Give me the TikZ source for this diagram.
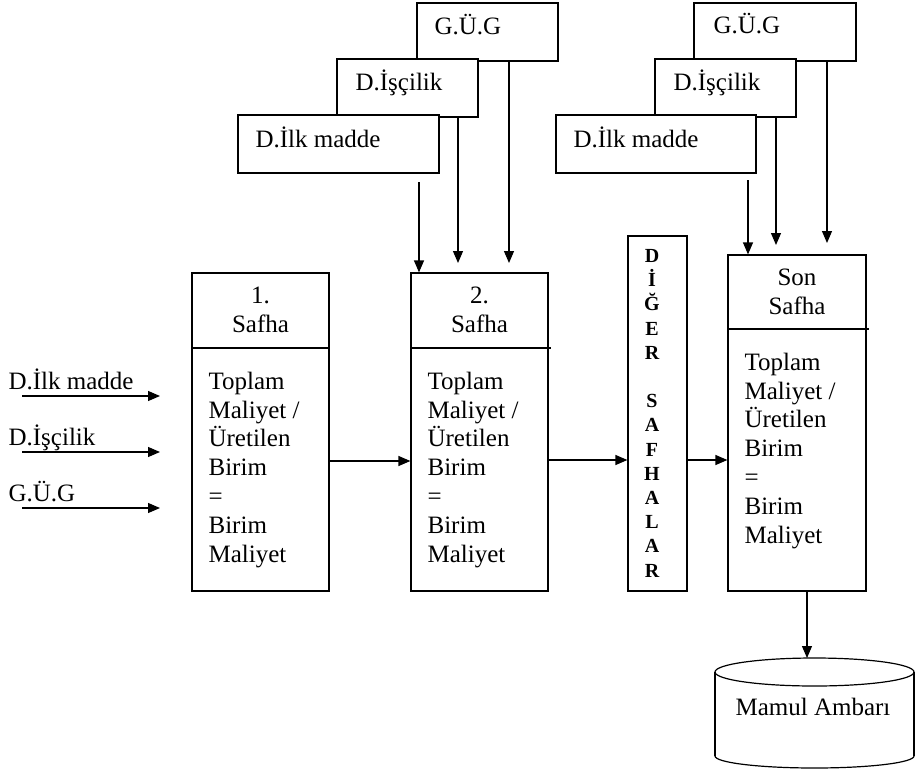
\documentclass[tikz,border=0pt]{standalone}
\usepackage{fontspec}
\setmainfont{Liberation Serif}
\usetikzlibrary{arrows.meta}
\begin{document}
\begin{tikzpicture}[x=1pt,y=-1pt,
  line width=1.2pt,
  box/.style={draw, fill=white, inner sep=0pt, line width=1.2pt},
  txt/.style={font=\fontsize{25}{28.8}\selectfont, inner sep=0pt, anchor=base west},
  head/.style={font=\fontsize{25}{28.8}\selectfont, inner sep=0pt, anchor=base, align=center},
  body/.style={font=\fontsize{25}{28.8}\selectfont, inner sep=0pt, anchor=base west, align=left},
  vert/.style={font=\fontsize{20}{24.2}\selectfont\bfseries, inner sep=0pt, anchor=base, align=center},
  arr/.style={-{Triangle[length=12pt,width=10pt]}, line width=1.2pt}]
\useasboundingbox[fill=white] (0,0) rectangle (923,771);

% cost inputs feeding the second stage
\node[box, minimum width=141pt, minimum height=58pt] (gugA) at (487.5,32) {};
\node[txt] (gugAt) at (434,34) {G.Ü.G};
\node[box, minimum width=141pt, minimum height=58pt] (iscA) at (407.5,88) {};
\node[txt] (iscAt) at (355,90) {D.İşçilik};
\node[box, minimum width=201pt, minimum height=58pt] (ilkA) at (338.5,144) {};
\node[txt] (ilkAt) at (255,147) {D.İlk madde};

% cost inputs feeding the last stage
\node[box, minimum width=162pt, minimum height=58pt] (gugB) at (775,32) {};
\node[txt] (gugBt) at (713,33) {G.Ü.G};
\node[box, minimum width=141pt, minimum height=58pt] (iscB) at (725.5,88) {};
\node[txt] (iscBt) at (673,90) {D.İşçilik};
\node[box, minimum width=200pt, minimum height=58pt] (ilkB) at (656,144) {};
\node[txt] (ilkBt) at (573,147) {D.İlk madde};

% stages
\node[box, minimum width=137pt, minimum height=318pt] (s1) at (260.5,432) {};
\node[box, minimum width=137pt, minimum height=318pt] (s2) at (479.5,432) {};
\node[box, minimum width=59pt, minimum height=355pt] (diger) at (657.5,413.5) {};
\node[box, minimum width=138pt, minimum height=336pt] (son) at (797,423) {};

\coordinate (d1) at (0,348);
\coordinate (d2) at (0,329);
\draw (s1.west |- d1) -- (s1.east |- d1);
\draw (s2.west |- d1) -- ([xshift=2pt]s2.east |- d1);
\draw (son.west |- d2) -- ([xshift=2pt]son.east |- d2);

% multi-line nodes sit on the baseline of their last line
\node[head] (h1) at (260.5,332) {1.\\Safha};
\node[head] (h2) at (479.5,332) {2.\\Safha};
\node[head] (h3) at (797,314) {Son\\Safha};

\node[body] (b1) at (208,562) {Toplam\\Maliyet /\\Üretilen\\Birim\\=\\Birim\\Maliyet};
\node[body] (b2) at (427,562) {Toplam\\Maliyet /\\Üretilen\\Birim\\=\\Birim\\Maliyet};
\node[body] (b3) at (744,543) {Toplam\\Maliyet /\\Üretilen\\Birim\\=\\Birim\\Maliyet};

\node[vert] (dt) at (652,577) {D\\İ\\Ğ\\E\\R\\~\\S\\A\\F\\H\\A\\L\\A\\R};

% inputs of the first stage
\node[txt] (in1) at (8,389) {D.İlk madde};
\node[txt] (in2) at (8,445) {D.İşçilik};
\node[txt] (in3) at (8,501) {G.Ü.G};
\coordinate (in1a) at (22,396); \coordinate (in1b) at (160,396);
\coordinate (in2a) at (22,452); \coordinate (in2b) at (160,452);
\coordinate (in3a) at (22,508); \coordinate (in3b) at (160,508);
\draw[arr] (in1a) -- (in1b);
\draw[arr] (in2a) -- (in2b);
\draw[arr] (in3a) -- (in3b);

% vertical feeds
\coordinate (t1) at (419,182);
\coordinate (t2) at (458,263);
\coordinate (t3) at (509,263);
\coordinate (t4) at (748,180);
\coordinate (t5) at (776,245);
\coordinate (t6) at (827,243);
\draw[arr] (t1) -- (s2.north -| t1);
\draw[arr] (iscA.south -| t2) -- (t2);
\draw[arr] (gugA.south -| t3) -- (t3);
\draw[arr] (t4) -- (son.north -| t4);
\draw[arr] (iscB.south -| t5) -- (t5);
\draw[arr] (gugB.south -| t6) -- (t6);

% flow between stages
\coordinate (r1) at (0,461);
\coordinate (r2) at (0,460);
\draw[arr] (s1.east |- r1) -- (s2.west |- r1);
\draw[arr] (s2.east |- r2) -- (diger.west |- r2);
\draw[arr] (diger.east |- r2) -- (son.west |- r2);

% finished goods store
\draw (814.5,672) ellipse [x radius=99.5, y radius=14];
\draw (715,672) -- (715,756);
\draw (914,672) -- (914,756);
\begin{scope}
  \clip (700,756) rectangle (930,771);
  \draw (814.5,756) ellipse [x radius=99.5, y radius=12];
\end{scope}
\node[txt, anchor=base] (ambar) at (813,715) {Mamul Ambarı};
\coordinate (ambartop) at (807,658);
\draw[arr] (son.south -| ambartop) -- (ambartop);
\end{tikzpicture}
\end{document}
